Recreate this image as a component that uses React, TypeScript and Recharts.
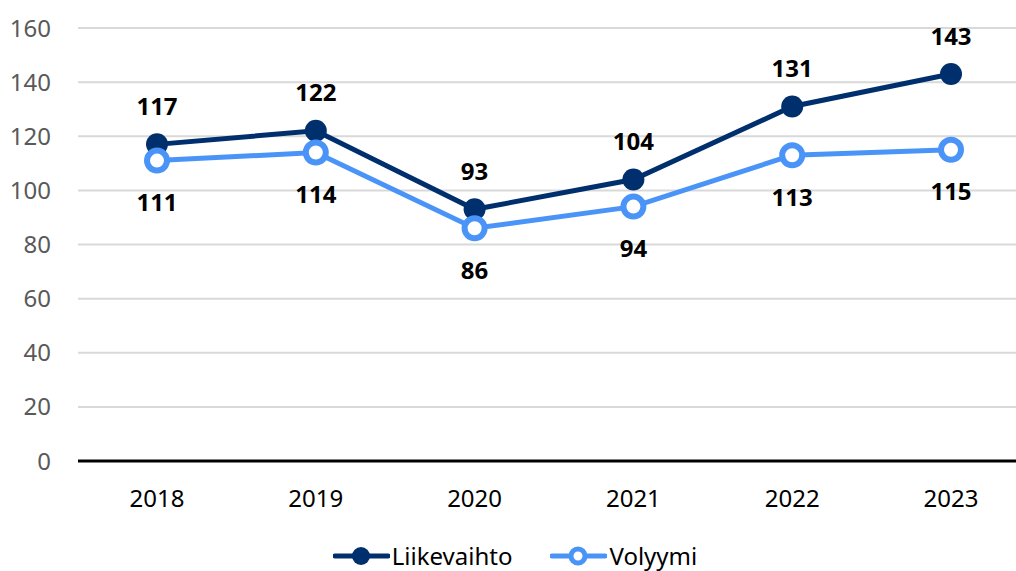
import React from 'react';
import {
  LineChart,
  Line,
  XAxis,
  YAxis,
  CartesianGrid,
  Legend,
  LabelList,
} from 'recharts';

const years = ['2018', '2019', '2020', '2021', '2022', '2023'];
const liikevaihto = [117, 122, 93, 104, 131, 143];
const volyymi = [111, 114, 86, 94, 113, 115];
const yTicks = [0, 20, 40, 60, 80, 100, 120, 140, 160];

const NAVY = '#002f6e';
const BLUE = '#4a94f8';
const FONT = '"Noto Sans", "Open Sans", sans-serif';

const data = years.map((year, i) => ({
  year,
  liikevaihto: liikevaihto[i],
  volyymi: volyymi[i],
}));

// value label above (negative shift) or below the point
const makeLabel = (shift: number) => (props: any) => {
  const { x, y, value } = props;
  return (
    <text
      x={x}
      y={y + shift}
      textAnchor="middle"
      dominantBaseline="central"
      fontFamily={FONT}
      fontSize={24}
      fontWeight={700}
      fill="#000"
    >
      {value}
    </text>
  );
};

function LegendContent() {
  const items = [
    { name: 'Liikevaihto', color: NAVY, hollow: false },
    { name: 'Volyymi', color: BLUE, hollow: true },
  ];
  return (
    <div
      style={{
        display: 'flex',
        justifyContent: 'center',
        alignItems: 'center',
        gap: 38,
        fontFamily: FONT,
        fontSize: 24,
        color: '#000',
        height: 30,
      }}
    >
      {items.map((item) => (
        <div key={item.name} style={{ display: 'flex', alignItems: 'center' }}>
          <svg width={57} height={26} style={{ marginRight: 2 }}>
            <line x1={2} y1={13} x2={55} y2={13} stroke={item.color} strokeWidth={5} strokeLinecap="round" />
            {item.hollow ? (
              <circle cx={28} cy={13} r={7} fill="#fff" stroke={item.color} strokeWidth={5} />
            ) : (
              <circle cx={28} cy={13} r={9} fill={item.color} />
            )}
          </svg>
          <span style={{ lineHeight: '30px' }}>{item.name}</span>
        </div>
      ))}
    </div>
  );
}

export default function App() {
  return (
    <div
      style={{
        position: 'absolute',
        top: 0,
        left: 0,
        width: 1016,
        height: 571,
        overflow: 'hidden',
        background: '#fff',
      }}
    >
      <LineChart
        width={1034}
        height={571}
        data={data}
        margin={{ top: 28, right: 4, bottom: 0, left: 0 }}
      >
        <CartesianGrid vertical={false} stroke="#d9d9d9" strokeWidth={2} />
        <XAxis
          dataKey="year"
          height={80}
          padding={{ left: 79, right: 79 }}
          tickLine={false}
          tickSize={0}
          tickMargin={29}
          axisLine={{ stroke: '#000', strokeWidth: 3 }}
          tick={{ fontSize: 24, fill: '#000', fontFamily: FONT }}
        />
        <YAxis
          width={78}
          domain={[0, 160]}
          ticks={yTicks}
          interval={0}
          axisLine={false}
          tickLine={false}
          tickSize={0}
          tickMargin={27}
          tick={{ fontSize: 24, fill: '#595959', fontFamily: FONT }}
        />
        <Legend verticalAlign="bottom" height={30} content={<LegendContent />} />
        <Line
          dataKey="liikevaihto"
          name="Liikevaihto"
          stroke={NAVY}
          strokeWidth={5}
          dot={{ r: 11, fill: NAVY, stroke: 'none' }}
          activeDot={false}
          isAnimationActive={false}
        >
          <LabelList dataKey="liikevaihto" content={makeLabel(-39)} />
        </Line>
        <Line
          dataKey="volyymi"
          name="Volyymi"
          stroke={BLUE}
          strokeWidth={5}
          dot={{ r: 10, fill: '#fff', stroke: BLUE, strokeWidth: 6 }}
          activeDot={false}
          isAnimationActive={false}
        >
          <LabelList dataKey="volyymi" content={makeLabel(41)} />
        </Line>
      </LineChart>
    </div>
  );
}
